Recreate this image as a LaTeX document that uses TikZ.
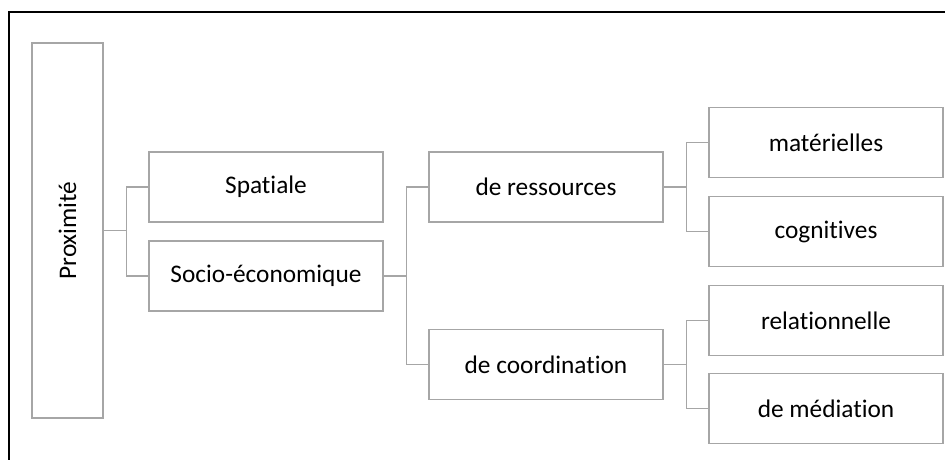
\documentclass[tikz,border=0pt]{standalone}
\usepackage{fontspec}
\setmainfont{Carlito}[Ligatures={NoCommon,NoRequired,NoContextual}]
\begin{document}
\begin{tikzpicture}[x=0.75pt,y=-0.75pt,
  box/.style={draw=boxgray, line width=1.1pt, inner sep=0pt, minimum width=175.5pt, minimum height=52.5pt, font=\fontsize{19}{23}\selectfont, text=black},
  conn/.style={draw=boxgray, line width=1.1pt}]
\definecolor{boxgray}{RGB}{166,166,166}
\useasboundingbox (0,0) rectangle (945,460);
\draw[line width=2pt, black] (9,460) -- (9,12) -- (945,12);
\node[box, minimum width=53.25pt, minimum height=281.25pt] (prox) at (67.5,230.5) {};
\node[rotate=90, font=\fontsize{19}{23}\selectfont, text=black] (proxt) at (prox.center) {Proximité};
\node[box] (spat) at (266,187) {Spatiale};
\node[box] (socio) at (266,276) {Socio-économique};
\node[box] (ress) at (546,187) {de ressources};
\node[box] (coord) at (546,364.5) {de coordination};
\node[box] (mat) at (826,142.5) {matérielles};
\node[box] (cog) at (826,231.5) {cognitives};
\node[box] (rel) at (826,320.5) {relationnelle};
\node[box] (med) at (826,408.5) {de médiation};
\draw[conn] (prox.east) -- ++(23,0) coordinate (j1);
\draw[conn] (j1) |- (spat.west);
\draw[conn] (j1) |- (socio.west);
\draw[conn] (socio.east) -- ++(23,0) coordinate (j2);
\draw[conn] (j2) |- (ress.west);
\draw[conn] (j2) |- (coord.west);
\draw[conn] (ress.east) -- ++(23,0) coordinate (j3);
\draw[conn] (j3) |- (mat.west);
\draw[conn] (j3) |- (cog.west);
\draw[conn] (coord.east) -- ++(23,0) coordinate (j4);
\draw[conn] (j4) |- (rel.west);
\draw[conn] (j4) |- (med.west);
\end{tikzpicture}
\end{document}
